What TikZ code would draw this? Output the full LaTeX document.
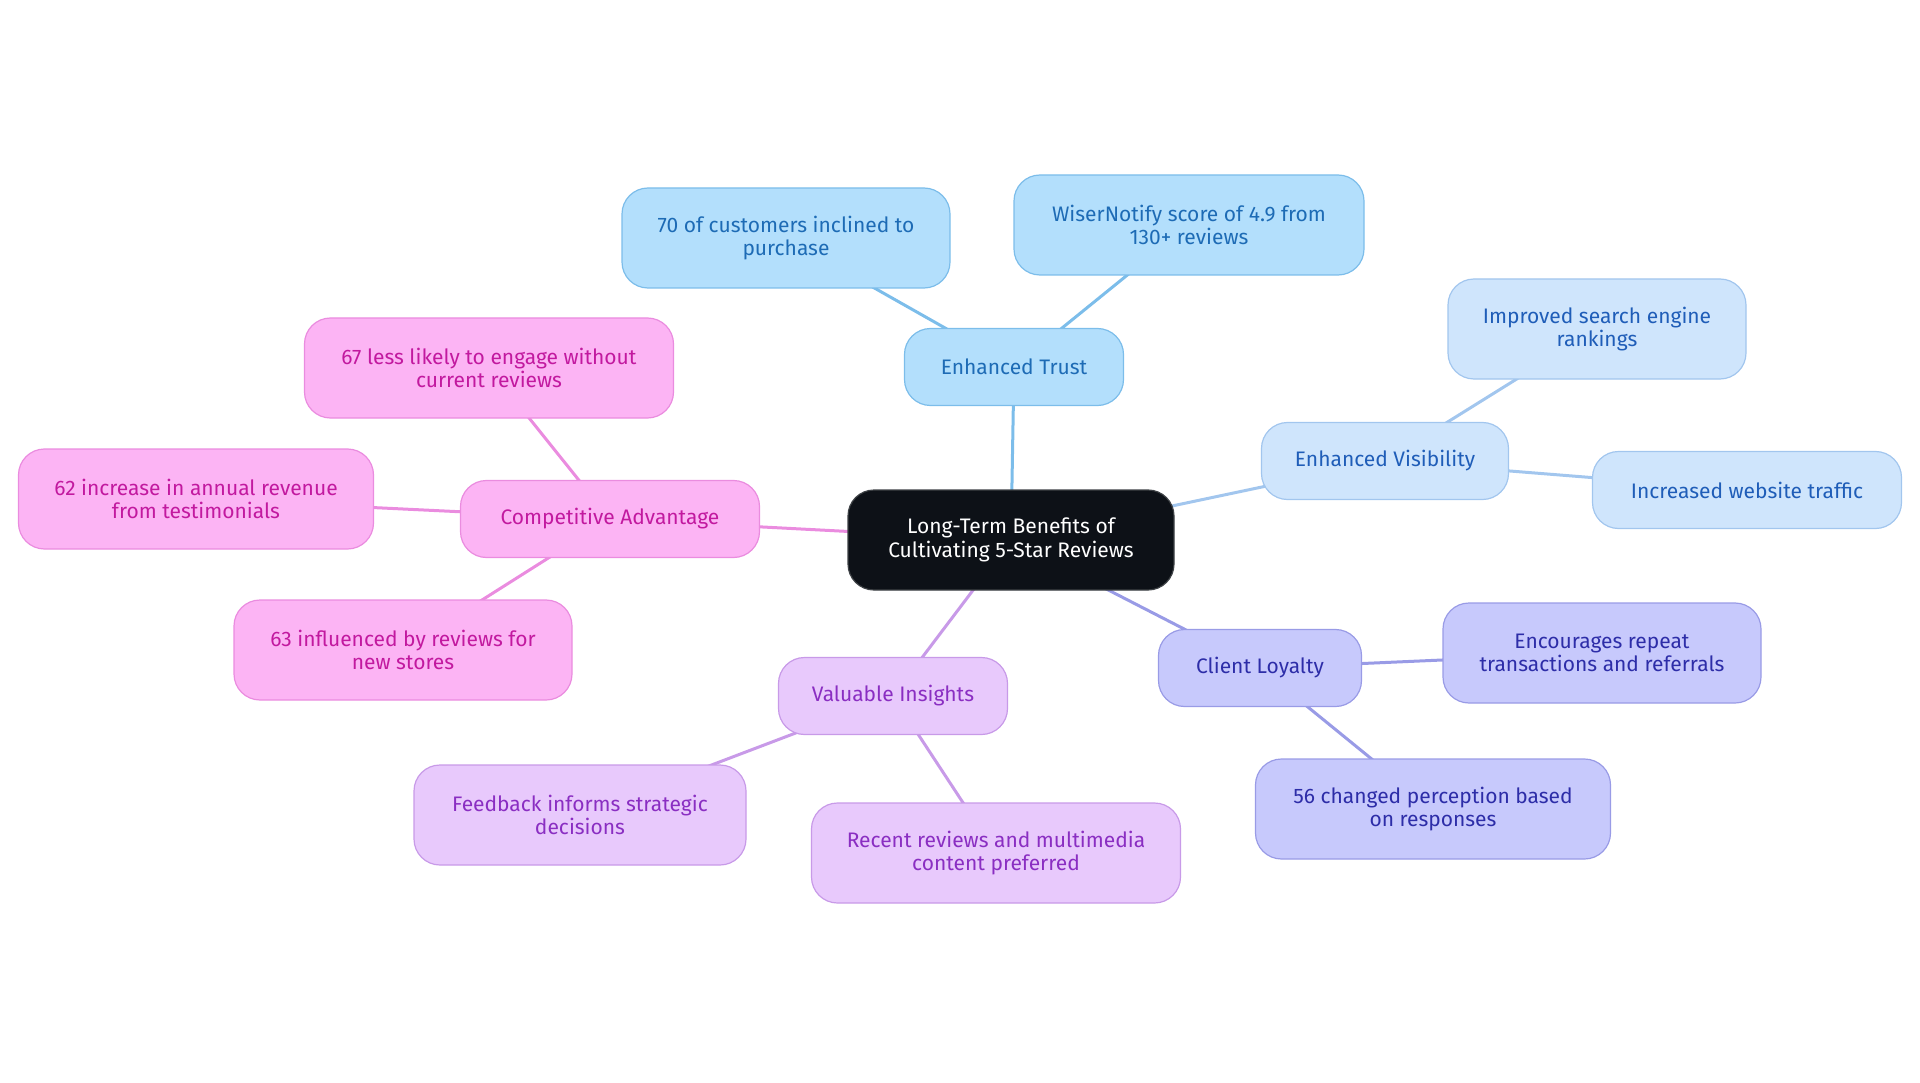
\documentclass[tikz,border=0pt]{standalone}
\usepackage{fontspec}
\setmainfont{Fira Sans}
\usetikzlibrary{backgrounds}
\definecolor{rootfill}{HTML}{0D1117}
\definecolor{trustfill}{HTML}{B3DFFC}\definecolor{trustline}{HTML}{7CBDEA}\definecolor{trusttext}{HTML}{1D6BB5}
\definecolor{visfill}{HTML}{CFE5FC}\definecolor{visline}{HTML}{A2C6EE}\definecolor{vistext}{HTML}{1F5DB8}
\definecolor{loyfill}{HTML}{C7C9FC}\definecolor{loyline}{HTML}{999BE6}\definecolor{loytext}{HTML}{2D2DA8}
\definecolor{insfill}{HTML}{E8C9FC}\definecolor{insline}{HTML}{C89AE8}\definecolor{instext}{HTML}{8A2EC2}
\definecolor{compfill}{HTML}{FCB4F4}\definecolor{compline}{HTML}{EA8CDF}\definecolor{comptext}{HTML}{C2199F}
\begin{document}
\begin{tikzpicture}[x=1pt, y=-1pt,
		box/.style={rounded corners=26pt, line width=1.2pt, align=center, inner xsep=4pt,
			font=\fontsize{21}{23.5}\selectfont},
		one/.style={box, minimum height=77pt},
		two/.style={box, minimum height=100pt},
		trust/.style={fill=trustfill, draw=trustline, text=trusttext},
		vis/.style={fill=visfill, draw=visline, text=vistext},
		loy/.style={fill=loyfill, draw=loyline, text=loytext},
		ins/.style={fill=insfill, draw=insline, text=instext},
		comp/.style={fill=compfill, draw=compline, text=comptext},
		link/.style={line width=3pt}]
		\useasboundingbox (0,0) rectangle (1920,1083);
		% Root
		\node[two, fill=rootfill, draw=rootfill!80!white, text=white, minimum width=326pt] (root) at (1011,540) {Long-Term Benefits of\\Cultivating 5-Star Reviews};
		% Enhanced Trust
		\node[one, trust, minimum width=219pt] (trust) at (1014,367) {Enhanced Trust};
		\node[two, trust, minimum width=328pt] (incl) at (786,238) {70 of customers inclined to\\purchase};
		\node[two, trust, minimum width=350pt] (wiser) at (1189,225) {WiserNotify score of 4.9 from\\130+ reviews};
		% Enhanced Visibility
		\node[one, vis, minimum width=247pt] (vis) at (1385,461) {Enhanced Visibility};
		\node[two, vis, minimum width=298pt] (rank) at (1597,329) {Improved search engine\\rankings};
		\node[one, vis, minimum width=309pt] (traffic) at (1747,490) {Increased website traffic};
		% Client Loyalty
		\node[one, loy, minimum width=203pt] (loyal) at (1260,668) {Client Loyalty};
		\node[two, loy, minimum width=318pt] (repeat) at (1602,653) {Encourages repeat\\transactions and referrals};
		\node[two, loy, minimum width=355pt] (percep) at (1433,809) {56 changed perception based\\on responses};
		% Valuable Insights
		\node[one, ins, minimum width=229pt] (insight) at (893,696) {Valuable Insights};
		\node[two, ins, minimum width=332pt] (feedb) at (580,815) {Feedback informs strategic\\decisions};
		\node[two, ins, minimum width=369pt] (recent) at (996,853) {Recent reviews and multimedia\\content preferred};
		% Competitive Advantage
		\node[one, comp, minimum width=299pt] (comp) at (610,519) {Competitive Advantage};
		\node[two, comp, minimum width=369pt] (engage) at (489,368) {67 less likely to engage without\\current reviews};
		\node[two, comp, minimum width=355pt] (revenue) at (196,499) {62 increase in annual revenue\\from testimonials};
		\node[two, comp, minimum width=338pt] (stores) at (403,650) {63 influenced by reviews for\\new stores};
		% Links
		\begin{scope}[on background layer]
			\draw[link, trustline] (root.center) -- (trust.center);
			\draw[link, trustline] (trust.center) -- (incl.center);
			\draw[link, trustline] (trust.center) -- (wiser.center);
			\draw[link, visline] (root.center) -- (vis.center);
			\draw[link, visline] (vis.center) -- (rank.center);
			\draw[link, visline] (vis.center) -- (traffic.center);
			\draw[link, loyline] (root.center) -- (loyal.center);
			\draw[link, loyline] (loyal.center) -- (repeat.center);
			\draw[link, loyline] (loyal.center) -- (percep.center);
			\draw[link, insline] (root.center) -- (insight.center);
			\draw[link, insline] (insight.center) -- (feedb.center);
			\draw[link, insline] (insight.center) -- (recent.center);
			\draw[link, compline] (root.center) -- (comp.center);
			\draw[link, compline] (comp.center) -- (engage.center);
			\draw[link, compline] (comp.center) -- (revenue.center);
			\draw[link, compline] (comp.center) -- (stores.center);
		\end{scope}
	\end{tikzpicture}
\end{document}
